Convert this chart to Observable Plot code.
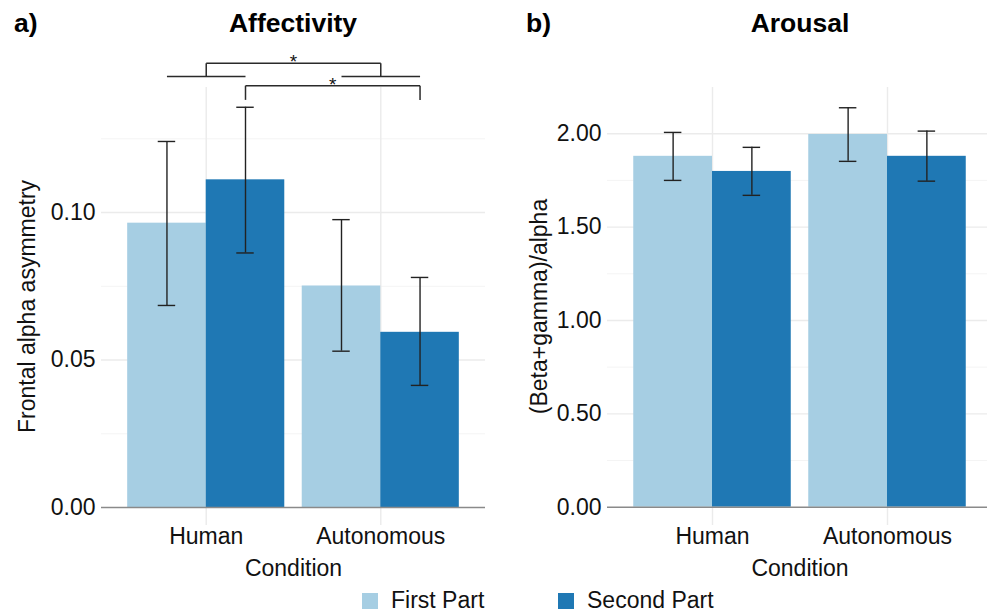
<!DOCTYPE html>
<html><head><meta charset="utf-8">
<script src="https://cdn.jsdelivr.net/npm/d3@7"></script>
<script src="https://cdn.jsdelivr.net/npm/@observablehq/plot@0.6"></script>
<style>
html,body{margin:0;padding:0;background:#fff;overflow:hidden;}
#root{position:relative;width:987px;height:612px;overflow:hidden;font-family:"Liberation Sans",Arial,Helvetica,sans-serif;}
.panel{position:absolute;top:0;}
.panel svg{max-width:none !important;}
#overlay{position:absolute;left:0;top:0;}
</style></head><body><div id="root"></div>
<script>
// ---- data ----
const conditions = ["Human", "Autonomous"];
const parts = ["First Part", "Second Part"];
const partColors = ["#a6cee3", "#1f78b4"];

// Affectivity (frontal alpha asymmetry)
const affMeanFirst  = [0.0964, 0.0751];
const affMeanSecond = [0.1111, 0.0594];
const affLowFirst   = [0.0685, 0.0530];
const affHighFirst  = [0.1241, 0.0976];
const affLowSecond  = [0.0863, 0.0414];
const affHighSecond = [0.1357, 0.0780];

// Arousal ((beta+gamma)/alpha)
const aroMeanFirst  = [1.879, 1.996];
const aroMeanSecond = [1.798, 1.879];
const aroLowFirst   = [1.750, 1.852];
const aroHighFirst  = [2.007, 2.139];
const aroLowSecond  = [1.670, 1.746];
const aroHighSecond = [1.927, 2.014];

// axis ticks
const affTicks = [0, 0.05, 0.10];
const affMinorTicks = [0.025, 0.075, 0.125];
const aroTicks = [0, 0.5, 1.0, 1.5, 2.0];
const aroMinorTicks = [0.25, 0.75, 1.25, 1.75];

// significance brackets (Affectivity panel)
const sigFrom  = ["Human", "Human"];
const sigTo    = ["Autonomous", "Autonomous"];
const sigPart  = [null, "Second Part"];
const sigTop   = [0.1506, 0.1430];
const sigTip   = [0.1461, 0.1382];
const sigLabel = ["*", "*"];

// ---- layout constants ----
const FONT = '"Liberation Sans", Arial, Helvetica, sans-serif';
const dodge = 0.9, capW = 0.1;
const H = 560, mTop = 87, mBottom = 35;

const ci = c => conditions.indexOf(c) + 1;
const pos = (c, p) => ci(c) + (parts.indexOf(p) - 0.5) * dodge / 2;

function buildRows(means, lows, highs) {
  return conditions.flatMap((c, i) => parts.map((p, j) => ({
    condition: c, part: p, mean: means[j][i], lo: lows[j][i], hi: highs[j][i],
    xc: pos(c, p), x1: pos(c, p) - dodge / 4, x2: pos(c, p) + dodge / 4
  })));
}

function buildBrackets() {
  const segs = [], labels = [];
  sigFrom.forEach((a, k) => {
    const b = sigTo[k], p = sigPart[k];
    const xa = p ? pos(a, p) : ci(a), xb = p ? pos(b, p) : ci(b);
    segs.push({x1: xa, x2: xb, y1: sigTop[k], y2: sigTop[k]});
    segs.push({x1: xa, x2: xa, y1: sigTop[k], y2: sigTip[k]});
    segs.push({x1: xb, x2: xb, y1: sigTop[k], y2: sigTip[k]});
    if (!p) {
      [a, b].forEach(c => segs.push({x1: pos(c, parts[0]), x2: pos(c, parts[1]), y1: sigTip[k], y2: sigTip[k]}));
    }
    labels.push({x: (xa + xb) / 2, y: sigTop[k], text: sigLabel[k]});
  });
  return {segs, labels};
}

function panel({width, marginLeft, marginRight, yDomain, ticks, minor, rows, yLabel, yLabelDx, brackets}) {
  const marks = [
    Plot.ruleY(minor, {stroke: "#f4f4f4", strokeWidth: 1}),
    Plot.ruleY(ticks.filter(d => d !== 0), {stroke: "#ebebeb", strokeWidth: 1.4}),
    Plot.ruleX([1, 2], {stroke: "#ebebeb", strokeWidth: 1.4}),
    Plot.rectY(rows, {x1: "x1", x2: "x2", y: "mean", fill: "part"}),
    Plot.ruleY([0], {stroke: "#8a8a8a", strokeWidth: 1.5}),
    Plot.ruleX(rows, {x: "xc", y1: "lo", y2: "hi", stroke: "#222", strokeWidth: 1.4}),
    Plot.ruleY(rows, {y: "lo", x1: d => d.xc - capW / 2, x2: d => d.xc + capW / 2, stroke: "#222", strokeWidth: 1.4}),
    Plot.ruleY(rows, {y: "hi", x1: d => d.xc - capW / 2, x2: d => d.xc + capW / 2, stroke: "#222", strokeWidth: 1.4}),
    Plot.axisY({ticks, tickFormat: d3.format(".2f"), tickSize: 0, tickPadding: 6, fill: "#111", label: null}),
    Plot.axisX({ticks: [1, 2], tickFormat: i => conditions[i - 1], tickSize: 0, tickPadding: 2, fill: "#111", label: null}),
    Plot.text([yLabel], {frameAnchor: "left", textAnchor: "middle", rotate: -90, dx: yLabelDx, lineAnchor: "middle", fill: "#111"}),
    Plot.text(["Condition"], {frameAnchor: "bottom", textAnchor: "middle", dy: 33.7, lineAnchor: "top", fill: "#111"})
  ];
  if (brackets) {
    marks.push(Plot.link(brackets.segs, {x1: "x1", x2: "x2", y1: "y1", y2: "y2", stroke: "#2a2a2a", strokeWidth: 1.5}));
    marks.push(Plot.text(brackets.labels, {x: "x", y: "y", text: "text", lineAnchor: "middle", dy: -1, fontSize: 19, fill: "#111"}));
  }
  return Plot.plot({
    width, height: H, marginTop: mTop, marginBottom: mBottom, marginLeft, marginRight,
    style: {fontFamily: FONT, fontSize: "23px", color: "#111", background: "transparent", overflow: "visible"},
    x: {domain: [0.4, 2.6]},
    y: {domain: yDomain},
    color: {domain: parts, range: partColors},
    marks
  });
}

const root = document.getElementById("root");

const left = document.createElement("div");
left.className = "panel"; left.style.left = "0px";
left.appendChild(panel({
  width: 493, marginLeft: 101, marginRight: 8,
  yDomain: [-0.0061, 0.1424], ticks: affTicks, minor: affMinorTicks,
  rows: buildRows([affMeanFirst, affMeanSecond], [affLowFirst, affLowSecond], [affHighFirst, affHighSecond]),
  yLabel: "Frontal alpha asymmetry", yLabelDx: -73.5, brackets: buildBrackets()
}));
root.appendChild(left);

const right = document.createElement("div");
right.className = "panel"; right.style.left = "493px";
right.appendChild(panel({
  width: 499, marginLeft: 114, marginRight: 0,
  yDomain: [-0.098, 2.2475], ticks: aroTicks, minor: aroMinorTicks,
  rows: buildRows([aroMeanFirst, aroMeanSecond], [aroLowFirst, aroLowSecond], [aroHighFirst, aroHighSecond]),
  yLabel: "(Beta+gamma)/alpha", yLabelDx: -68
}));
root.appendChild(right);

// titles and legend
const ov = d3.select(root).append("svg").attr("id", "overlay")
  .attr("width", 987).attr("height", 612)
  .style("font-family", FONT);
const titles = [
  {x: 14, text: "a)", anchor: "start"},
  {x: 293, text: "Affectivity", anchor: "middle"},
  {x: 526, text: "b)", anchor: "start"},
  {x: 800, text: "Arousal", anchor: "middle"}
];
ov.selectAll("text.title").data(titles).join("text").attr("class", "title")
  .attr("x", d => d.x).attr("y", 31.5).attr("text-anchor", d => d.anchor)
  .attr("font-size", 26.5).attr("font-weight", "bold").attr("fill", "#000").text(d => d.text);

const legX = [362, 558];
const lg = ov.selectAll("g.leg").data(parts).join("g").attr("class", "leg")
  .attr("transform", (d, i) => `translate(${legX[i]},593)`);
lg.append("rect").attr("width", 16).attr("height", 16).attr("fill", (d, i) => partColors[i]);
lg.append("text").attr("x", 29).attr("y", 15.3).attr("font-size", 23).attr("fill", "#111").text(d => d);
</script></body></html>
